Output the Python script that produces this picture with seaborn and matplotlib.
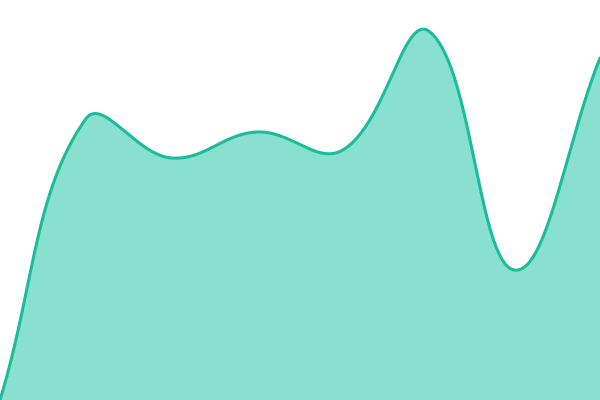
import numpy as np
import pandas as pd
import matplotlib
matplotlib.use("Agg")
import matplotlib.pyplot as plt
import seaborn as sns

# Data (evenly spaced points)
x_points = [0, 1, 2, 3, 4, 5, 6, 7]
values = [0, 281, 242, 268, 250, 369, 130, 342]

LINE = "#1ABC9C"
FILL = "#8AE0CF"
W, H = 600, 400

def chartjs_spline(xs, ys, tension=0.4, n=80):
    # control points computed in display (pixel) space like Chart.js
    xs = np.asarray(xs, float); ys = np.asarray(ys, float)
    X = xs / xs.max() * W
    Y = ys
    m = len(X)
    cpp, cpn = [], []
    for i in range(m):
        p0 = (X[i - 1], Y[i - 1]) if i > 0 else (X[i], Y[i])
        p1 = (X[i], Y[i])
        p2 = (X[i + 1], Y[i + 1]) if i < m - 1 else (X[i], Y[i])
        d01 = np.hypot(p1[0] - p0[0], p1[1] - p0[1])
        d12 = np.hypot(p2[0] - p1[0], p2[1] - p1[1])
        tot = d01 + d12
        s01 = d01 / tot if tot else 0
        s12 = d12 / tot if tot else 0
        fa, fb = tension * s01, tension * s12
        cpp.append((p1[0] - fa * (p2[0] - p0[0]), p1[1] - fa * (p2[1] - p0[1])))
        cpn.append((p1[0] + fb * (p2[0] - p0[0]), p1[1] + fb * (p2[1] - p0[1])))
    ox, oy = [], []
    for i in range(m - 1):
        t = np.linspace(0, 1, n, endpoint=(i == m - 2))[:, None]
        P0 = np.array([X[i], Y[i]]); P1 = np.array(cpn[i])
        P2 = np.array(cpp[i + 1]); P3 = np.array([X[i + 1], Y[i + 1]])
        B = (1 - t)**3 * P0 + 3 * (1 - t)**2 * t * P1 + 3 * (1 - t) * t**2 * P2 + t**3 * P3
        ox.append(B[:, 0]); oy.append(B[:, 1])
    return np.concatenate(ox) / W * xs.max(), np.concatenate(oy)

sx, sy = chartjs_spline(x_points, values)
df = pd.DataFrame({"x": sx, "y": sy})

sns.set_theme(style="white")
fig = plt.figure(figsize=(6, 4), dpi=100)
ax = fig.add_axes([0, 0, 1, 1])
ax.fill_between(df["x"], df["y"], 0, color=FILL, linewidth=0)
sns.lineplot(data=df, x="x", y="y", ax=ax, color=LINE, linewidth=2.2, sort=False)
ax.set_xlim(0, 7)
ax.set_ylim(0, 400)
ax.axis("off")
fig.savefig("out.png", dpi=100)
